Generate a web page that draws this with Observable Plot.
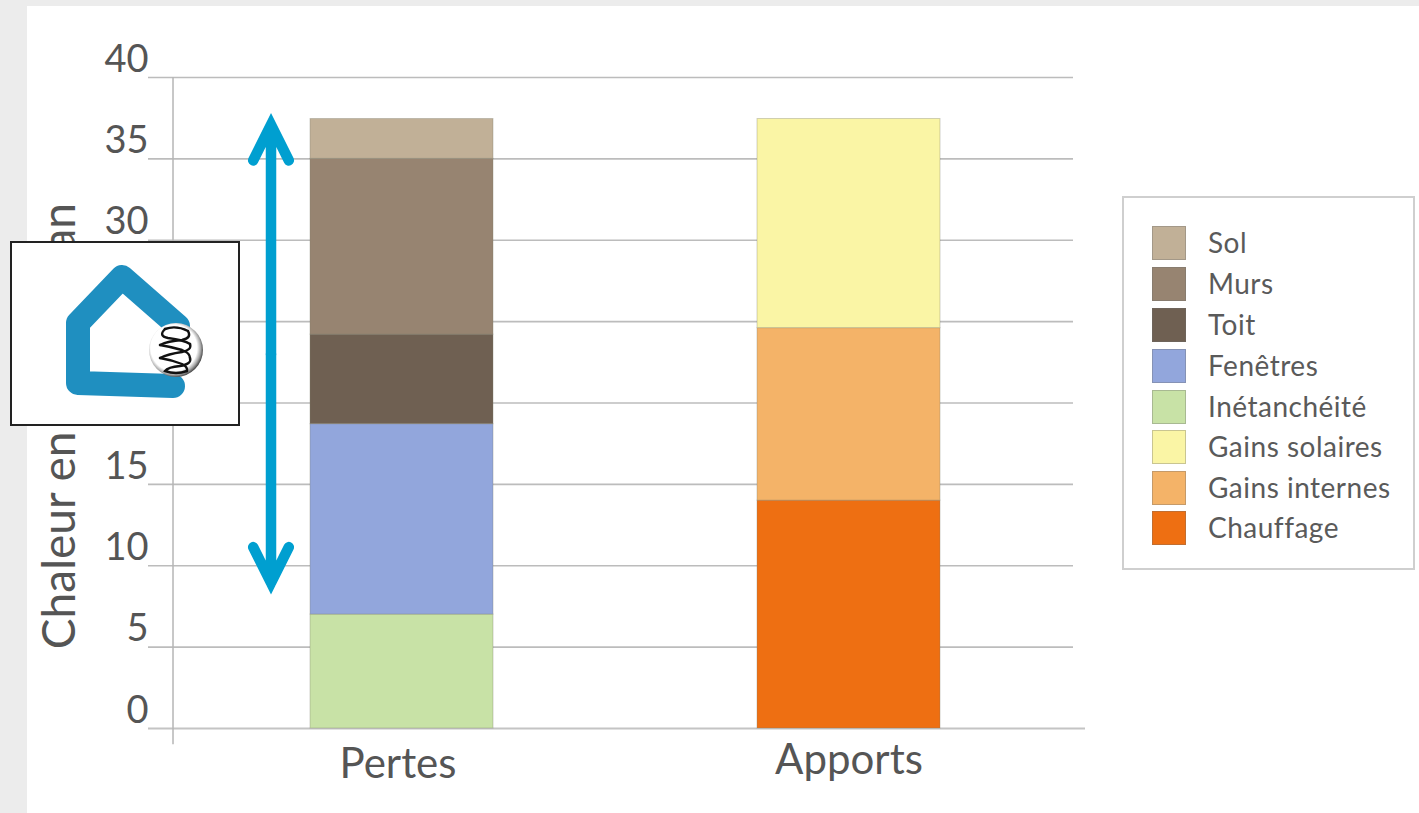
<!DOCTYPE html>
<html lang="fr">
<head>
<meta charset="utf-8">
<title>Bilan de chaleur</title>
<script src="https://cdn.jsdelivr.net/npm/d3@7"></script>
<script src="https://cdn.jsdelivr.net/npm/@observablehq/plot@0.6"></script>
<style>
  html, body { margin: 0; padding: 0; background: #ececec; }
  #page { position: relative; width: 1419px; height: 813px; overflow: hidden; background: #ececec; font-family: Lato, sans-serif; color: #555; }
  #panel { position: absolute; left: 27px; top: 6px; right: 0; bottom: 0; background: #fff; }
  #chart { position: absolute; left: 0; top: 0; }
  #chart svg { background: transparent; display: block; }
  #legend { position: absolute; left: 1122px; top: 196px; width: 289px; height: 370px; border: 2px solid #cfcfcf; background: #fff; }
  #legend .row { position: absolute; left: 28px; height: 34px; display: flex; align-items: center; white-space: nowrap; }
  #legend .swatch { width: 32px; height: 32px; border: 1px solid rgba(110,110,110,.35); margin-right: 22px; }
  #legend .name { position: relative; top: -1px; font-size: 28px; letter-spacing: 0.5px; color: #5a5a5a; }
  #badge { position: absolute; left: 10px; top: 241px; width: 226px; height: 181px; border: 2px solid #222; background: #fff; }
</style>
</head>
<body>
<div id="page">
  <div id="panel"></div>
  <div id="chart"></div>
  <div id="legend"></div>
  <div id="badge">
    <!-- Pictogramme : maison avec isolant -->
    <svg width="226" height="181" viewBox="12 243 226 181" style="display:block">
      <defs>
        <radialGradient id="halo" cx="46%" cy="46%" r="55%">
          <stop offset="78%" stop-color="#fff"/>
          <stop offset="90%" stop-color="#aaa"/>
          <stop offset="100%" stop-color="#444"/>
        </radialGradient>
      </defs>
      <path d="M178 326 L122 277 L78 323 L78 383 L173 386" fill="none" stroke="#1f8fc0" stroke-width="24" stroke-linejoin="round" stroke-linecap="round"/>
      <circle cx="176" cy="350" r="27" fill="url(#halo)"/>
      <g fill="none" stroke="#111" stroke-width="2.4" stroke-linecap="round">
        <path d="M165 329 Q176 325 188 331"/>
        <path d="M165 329 Q158 336 168 338 Q184 340 190 344"/>
        <path d="M160 345 Q172 347 182 350 Q190 353 190 358"/>
        <path d="M160 358 Q172 360 182 364 Q188 367 187 371"/>
        <path d="M188 331 Q192 338 182 340 Q168 341 160 345"/>
        <path d="M190 344 Q192 350 182 352 Q168 354 160 358"/>
        <path d="M190 358 Q192 364 180 366 Q168 367 165 371 Q176 375 187 371"/>
      </g>
    </svg>
  </div>
</div>
<script>
// Catégories et postes du bilan
const categories = ["Pertes", "Apports"];
const postes = ["Inétanchéité", "Fenêtres", "Toit", "Murs", "Sol", "Chauffage", "Gains internes", "Gains solaires"];
const groupes = ["Pertes", "Pertes", "Pertes", "Pertes", "Pertes", "Apports", "Apports", "Apports"];
const valeurs = [7, 11.7, 5.5, 10.8, 2.45, 14, 10.6, 12.85];

// Ordre et couleurs de la légende
const legende = ["Sol", "Murs", "Toit", "Fenêtres", "Inétanchéité", "Gains solaires", "Gains internes", "Chauffage"];
const couleurs = ["#c1b097", "#978471", "#6f6052", "#92a6dc", "#c8e2a6", "#faf5a5", "#f4b368", "#ee6f12"];
const legendeTops = [28, 69, 110, 151, 192, 232, 273, 313];

const graduations = [0, 5, 10, 15, 20, 25, 30, 35, 40];
const titreY = "Chaleur en kWh/m²an";
const flecheHaut = 37.1;
const flecheBas = 8.95;
const flecheMilieu = 23;

const lignes = postes.map((poste, i) => ({poste, groupe: groupes[i], valeur: valeurs[i]}));
const encre = "#555";

const chart = Plot.plot({
  width: 1419,
  height: 813,
  marginTop: 77,
  marginBottom: 85,
  marginLeft: 148,
  marginRight: 334,
  style: {fontFamily: "Lato, sans-serif", background: "transparent"},
  x: {domain: categories, paddingInner: 0.5906, paddingOuter: 0.3434, align: 0.5277, round: false, axis: null},
  y: {domain: [0, 40], axis: null},
  color: {domain: legende, range: couleurs},
  marks: [
    Plot.ruleY(graduations.filter(d => d > 0), {stroke: "#bcbcbc", strokeWidth: 1.6, insetRight: 12}),
    Plot.ruleY([0], {stroke: "#c4c4c4", strokeWidth: 2}),
    Plot.ruleX(["Pertes"], {y1: -1, y2: 40, stroke: "#b5b5b5", strokeWidth: 1.5, dx: -229}),
    Plot.barY(lignes, {
      x: "groupe",
      y: "valeur",
      fill: "poste",
      order: null,
      stroke: "#7d7d6d",
      strokeOpacity: 0.35,
      strokeWidth: 1
    }),
    Plot.axisY({
      ticks: graduations,
      tickSize: 0,
      tickPadding: 0,
      dy: -18,
      fontSize: 38,
      fill: encre,
      label: null
    }),
    Plot.axisX({ticks: ["Pertes"], tickSize: 0, tickPadding: 12, dx: -4, dy: 8, fontSize: 42, fill: encre, label: null}),
    Plot.axisX({ticks: ["Apports"], tickSize: 0, tickPadding: 12, dx: 0, dy: 4, fontSize: 42, fill: encre, label: null}),
    Plot.text([titreY], {
      frameAnchor: "left",
      y: [5],
      rotate: -90,
      textAnchor: "start",
      lineAnchor: "middle",
      dx: -88,
      dy: 2,
      fontSize: 46,
      fill: encre
    }),
    Plot.arrow([flecheHaut, flecheBas], {
      x1: () => "Pertes",
      x2: () => "Pertes",
      y1: () => flecheMilieu,
      y2: d => d,
      stroke: "#009fd0",
      strokeWidth: 10.5,
      headLength: 5.7,
      headAngle: 53,
      strokeMiterlimit: 10,
      dx: -131
    })
  ]
});
document.getElementById("chart").appendChild(chart);

// Légende à droite, bâtie sur l'échelle de couleur du graphique
const couleur = chart.scale("color");
const boite = document.getElementById("legend");
legende.forEach((nom, i) => {
  const row = document.createElement("div");
  row.className = "row";
  row.style.top = legendeTops[i] + "px";
  const swatch = document.createElement("div");
  swatch.className = "swatch";
  swatch.style.background = couleur.apply(nom);
  const label = document.createElement("span");
  label.className = "name";
  label.textContent = nom;
  row.append(swatch, label);
  boite.appendChild(row);
});
</script>
</body>
</html>
